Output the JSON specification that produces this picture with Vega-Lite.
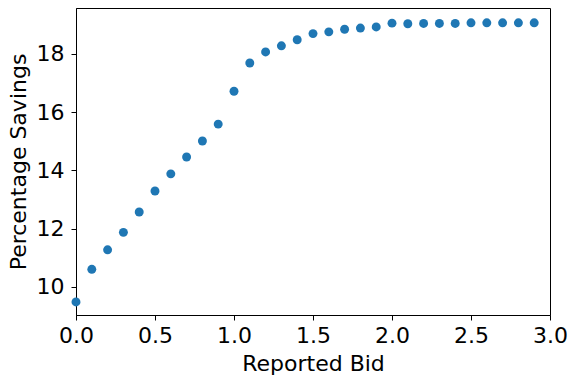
{
  "$schema": "https://vega.github.io/schema/vega-lite/v6.json",
  "width": 474,
  "height": 307,
  "autosize": {"type": "none"},
  "padding": {"left": 76, "top": 8, "right": 19, "bottom": 63},
  "background": "white",
  "config": {
    "font": "DejaVu Sans",
    "view": {"stroke": "black", "strokeWidth": 1},
    "axis": {
      "grid": false,
      "domainColor": "black",
      "tickColor": "black",
      "tickSize": 5,
      "labelColor": "black",
      "titleColor": "black",
      "labelFont": "DejaVu Sans",
      "titleFont": "DejaVu Sans",
      "labelFontSize": 22,
      "titleFontSize": 22,
      "titleFontWeight": "normal"
    }
  },
  "data": {
    "values": [
      {"bid": 0.0, "savings": 9.48},
      {"bid": 0.1, "savings": 10.60},
      {"bid": 0.2, "savings": 11.27},
      {"bid": 0.3, "savings": 11.87},
      {"bid": 0.4, "savings": 12.57},
      {"bid": 0.5, "savings": 13.29},
      {"bid": 0.6, "savings": 13.88},
      {"bid": 0.7, "savings": 14.46},
      {"bid": 0.8, "savings": 15.01},
      {"bid": 0.9, "savings": 15.59},
      {"bid": 1.0, "savings": 16.72},
      {"bid": 1.1, "savings": 17.69},
      {"bid": 1.2, "savings": 18.07},
      {"bid": 1.3, "savings": 18.28},
      {"bid": 1.4, "savings": 18.49},
      {"bid": 1.5, "savings": 18.70},
      {"bid": 1.6, "savings": 18.76},
      {"bid": 1.7, "savings": 18.85},
      {"bid": 1.8, "savings": 18.89},
      {"bid": 1.9, "savings": 18.93},
      {"bid": 2.0, "savings": 19.06},
      {"bid": 2.1, "savings": 19.04},
      {"bid": 2.2, "savings": 19.05},
      {"bid": 2.3, "savings": 19.05},
      {"bid": 2.4, "savings": 19.05},
      {"bid": 2.5, "savings": 19.07},
      {"bid": 2.6, "savings": 19.07},
      {"bid": 2.7, "savings": 19.07},
      {"bid": 2.8, "savings": 19.07},
      {"bid": 2.9, "savings": 19.07}
    ]
  },
  "mark": {"type": "circle", "size": 80, "color": "#1f77b4", "opacity": 1},
  "encoding": {
    "x": {
      "field": "bid",
      "type": "quantitative",
      "title": "Reported Bid",
      "scale": {"domain": [0, 3], "nice": false, "zero": false},
      "axis": {"values": [0, 0.5, 1, 1.5, 2, 2.5, 3], "format": ".1f", "labelPadding": 5, "titlePadding": 7, "labelFlush": false}
    },
    "y": {
      "field": "savings",
      "type": "quantitative",
      "title": "Percentage Savings",
      "scale": {"domain": [9.03, 19.58], "nice": false, "zero": false},
      "axis": {"values": [10, 12, 14, 16, 18], "labelPadding": 7, "titlePadding": 6, "labelFlush": false}
    }
  }
}
